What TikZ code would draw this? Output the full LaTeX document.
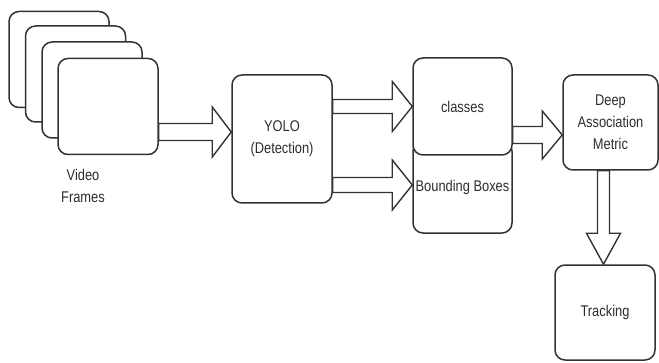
\documentclass[tikz,border=0pt]{standalone}
\usepackage{fontspec}
\setmainfont[FakeStretch=0.83]{Liberation Sans}
\usetikzlibrary{calc}
\definecolor{linec}{HTML}{333333}
\definecolor{textc}{HTML}{2E2E2E}
\tikzset{
  box/.style={draw=linec, line width=1.5pt, rounded corners=10pt, fill=white,
    inner sep=0pt, align=center, text=textc,
    font=\fontsize{15.5pt}{22pt}\selectfont},
  label/.style={inner sep=0pt, align=center, text=textc,
    font=\fontsize{15.5pt}{22pt}\selectfont},
  % hollow block arrow pointing right: shaft half-width, head half-width, head length
  harrow/.style n args={3}{draw=linec, line width=1.4pt, fill=white, line join=miter,
    to path={($(\tikztostart)+(0,#1)$) -- ($(\tikztotarget)+(-#3,#1)$)
      -- ($(\tikztotarget)+(-#3,#2)$) -- (\tikztotarget)
      -- ($(\tikztotarget)+(-#3,-#2)$) -- ($(\tikztotarget)+(-#3,-#1)$)
      -- ($(\tikztostart)+(0,-#1)$) -- cycle}},
  % hollow block arrow pointing down
  varrow/.style n args={3}{draw=linec, line width=1.4pt, fill=white, line join=miter,
    to path={($(\tikztostart)+(-#1,0)$) -- ($(\tikztotarget)+(-#1,#3)$)
      -- ($(\tikztotarget)+(-#2,#3)$) -- (\tikztotarget)
      -- ($(\tikztotarget)+(#2,#3)$) -- ($(\tikztotarget)+(#1,#3)$)
      -- ($(\tikztostart)+(#1,0)$) -- cycle}},
}
\begin{document}
\begin{tikzpicture}[x=1pt,y=1pt]
\useasboundingbox (0,0) rectangle (659,362);

% stack of video frames, back to front
\node[box, minimum width=100pt, minimum height=96pt] (f1) at (59,302.5) {};
\node[box, minimum width=100pt, minimum height=96pt] (f2) at (75.5,288) {};
\node[box, minimum width=100pt, minimum height=96pt] (f3) at (92,272) {};
\node[box, minimum width=100pt, minimum height=96pt] (f4) at (108,255.5) {};
\node[label] (vf) at (83,176) {Video\\Frames};

% detector
\node[box, minimum width=100pt, minimum height=128pt] (yolo) at (282,223) {YOLO\\(Detection)};

% detector outputs
\node[box, minimum width=99pt, minimum height=92pt] (bbox) at (462.5,175) {Bounding Boxes};
\node[box, minimum width=99pt, minimum height=97pt] (cls) at (462.5,255.5) {classes};

% association and tracking
\node[box, minimum width=95pt, minimum height=95pt] (deep) at (610.5,239.5) {Deep\\Association\\Metric};
\node[box, minimum width=100pt, minimum height=95pt] (track) at (605,49.5) {Tracking};

% arrow end points
\coordinate (a1t) at ($(yolo.west)+(0,7)$);
\coordinate (a1s) at (f4.east |- a1t);
\coordinate (a2t) at ($(cls.west)+(0,0)$);
\coordinate (a2s) at (yolo.east |- a2t);
\coordinate (a3t) at ($(bbox.west)+(0,2)$);
\coordinate (a3s) at (yolo.east |- a3t);
\coordinate (a4t) at ($(deep.west)+(0,-12.5)$);
\coordinate (a4s) at (cls.east |- a4t);
\coordinate (a5t) at ($(track.north)+(-1.5,0)$);
\coordinate (a5s) at (deep.south -| a5t);

\draw[harrow={8.5}{25}{19}] (a1s) to (a1t);
\draw[harrow={7}{25}{20}] (a2s) to (a2t);
\draw[harrow={7.5}{25}{20}] (a3s) to (a3t);
\draw[harrow={8.5}{24}{20}] (a4s) to (a4t);
\draw[varrow={6}{17}{31}] (a5s) to (a5t);
\end{tikzpicture}
\end{document}
